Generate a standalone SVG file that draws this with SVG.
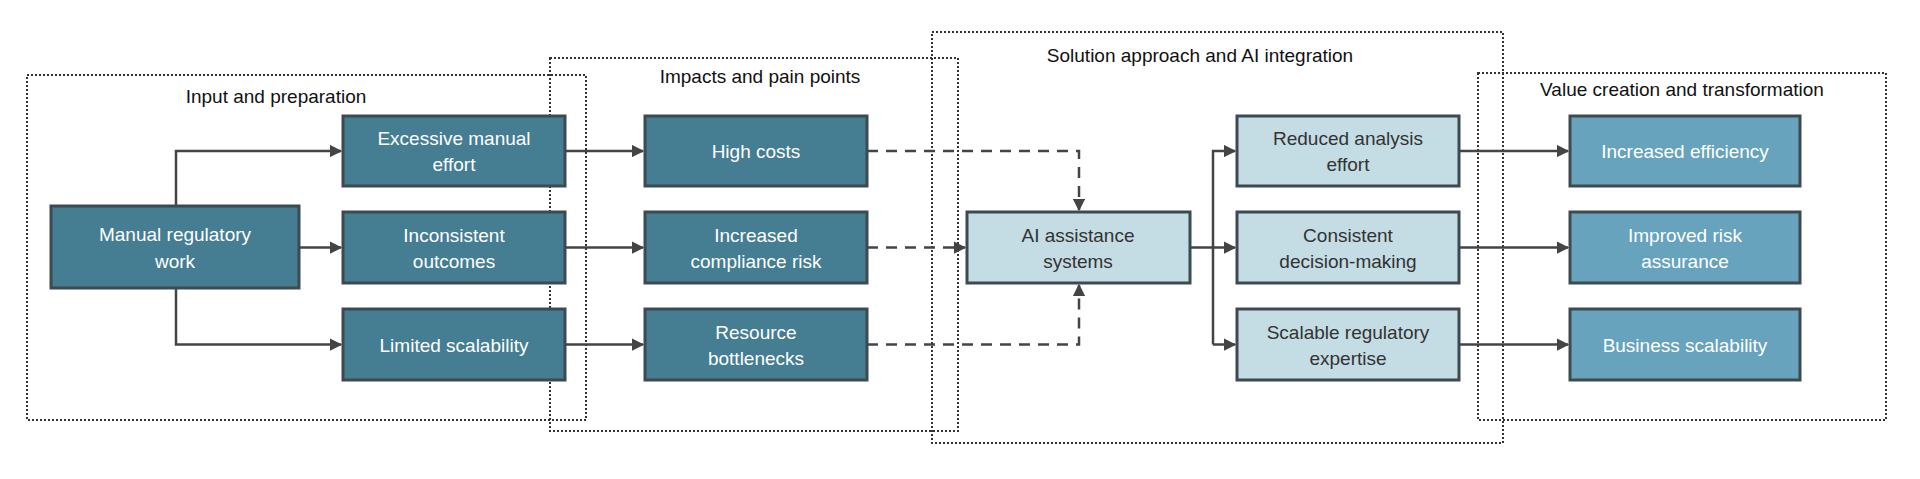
<svg xmlns="http://www.w3.org/2000/svg" width="1920" height="479" viewBox="0 0 1920 479">
<style>
text{font-family:"Liberation Sans",Arial,sans-serif;font-size:19px;text-anchor:middle;dominant-baseline:central}
.grp{fill:none;stroke:#333;stroke-width:2;stroke-dasharray:2 2}
.gt{fill:#111}
.d rect{fill:#457d92;stroke:#3d4a50;stroke-width:3}
.d text{fill:#fff}
.l rect{fill:#c4dce4;stroke:#3d4a50;stroke-width:3}
.l text{fill:#333}
.v rect{fill:#67a3bd;stroke:#3d4a50;stroke-width:3}
.v text{fill:#fff}
.c{fill:none;stroke:#444;stroke-width:2.5}
.dash{stroke-dasharray:11 8}
</style>
<defs><marker id="a" viewBox="0 0 10 10" refX="9" refY="5" markerWidth="5" markerHeight="5" orient="auto"><path d="M0,0L10,5L0,10z" fill="#444"/></marker></defs>
<g id="groups">
<rect class="grp" x="27" y="75" width="559" height="345"/>
<rect class="grp" x="550" y="58" width="408" height="373"/>
<rect class="grp" x="932" y="32" width="571" height="411"/>
<rect class="grp" x="1478" y="73" width="408" height="347"/>
<text class="gt" x="276" y="96">Input and preparation</text>
<text class="gt" x="760" y="76">Impacts and pain points</text>
<text class="gt" x="1200" y="55">Solution approach and AI integration</text>
<text class="gt" x="1682" y="89">Value creation and transformation</text>
</g>
<g id="connectors">
<path class="c" d="M176,206V151H341" marker-end="url(#a)"/>
<path class="c" d="M299,247.5H341" marker-end="url(#a)"/>
<path class="c" d="M176,288V344.5H341" marker-end="url(#a)"/>
<path class="c" d="M565,151H643" marker-end="url(#a)"/>
<path class="c" d="M565,247.5H643" marker-end="url(#a)"/>
<path class="c" d="M565,344.5H643" marker-end="url(#a)"/>
<path class="c dash" d="M867,151H1079V210" marker-end="url(#a)"/>
<path class="c dash" d="M867,247.5H965" marker-end="url(#a)"/>
<path class="c dash" d="M867,344.5H1079V285" marker-end="url(#a)"/>
<path class="c" d="M1190,247.5H1235" marker-end="url(#a)"/>
<path class="c" d="M1213,344.5V151H1235" marker-end="url(#a)"/>
<path class="c" d="M1213,344.5H1235" marker-end="url(#a)"/>
<path class="c" d="M1459,151H1568" marker-end="url(#a)"/>
<path class="c" d="M1459,247.5H1568" marker-end="url(#a)"/>
<path class="c" d="M1459,344.5H1568" marker-end="url(#a)"/>
</g>
<g id="n1" class="d"><rect x="51" y="206" width="248" height="82"/><text x="175" y="234">Manual regulatory</text><text x="175" y="261">work</text></g>
<g id="n2" class="d"><rect x="343" y="116" width="222" height="70"/><text x="454" y="138">Excessive manual</text><text x="454" y="164">effort</text></g>
<g id="n3" class="d"><rect x="343" y="212" width="222" height="71"/><text x="454" y="235">Inconsistent</text><text x="454" y="261">outcomes</text></g>
<g id="n4" class="d"><rect x="343" y="309" width="222" height="71"/><text x="454" y="345">Limited scalability</text></g>
<g id="n5" class="d"><rect x="645" y="116" width="222" height="70"/><text x="756" y="151">High costs</text></g>
<g id="n6" class="d"><rect x="645" y="212" width="222" height="71"/><text x="756" y="235">Increased</text><text x="756" y="261">compliance risk</text></g>
<g id="n7" class="d"><rect x="645" y="309" width="222" height="71"/><text x="756" y="332">Resource</text><text x="756" y="358">bottlenecks</text></g>
<g id="n8" class="l"><rect x="967" y="212" width="223" height="71"/><text x="1078" y="235">AI assistance</text><text x="1078" y="261">systems</text></g>
<g id="n9" class="l"><rect x="1237" y="116" width="222" height="70"/><text x="1348" y="138">Reduced analysis</text><text x="1348" y="164">effort</text></g>
<g id="n10" class="l"><rect x="1237" y="212" width="222" height="71"/><text x="1348" y="235">Consistent</text><text x="1348" y="261">decision-making</text></g>
<g id="n11" class="l"><rect x="1237" y="309" width="222" height="71"/><text x="1348" y="332">Scalable regulatory</text><text x="1348" y="358">expertise</text></g>
<g id="n12" class="v"><rect x="1570" y="116" width="230" height="70"/><text x="1685" y="151">Increased efficiency</text></g>
<g id="n13" class="v"><rect x="1570" y="212" width="230" height="71"/><text x="1685" y="235">Improved risk</text><text x="1685" y="261">assurance</text></g>
<g id="n14" class="v"><rect x="1570" y="309" width="230" height="71"/><text x="1685" y="345">Business scalability</text></g>
</svg>
